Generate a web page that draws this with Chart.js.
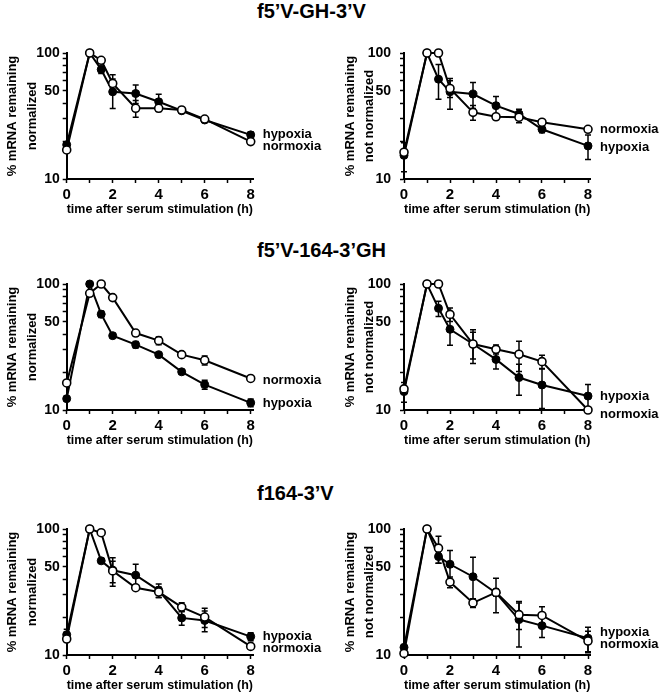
<!DOCTYPE html>
<html>
<head>
<meta charset="utf-8">
<script src="https://cdn.jsdelivr.net/npm/chart.js@4.4.0/dist/chart.umd.min.js"></script>
<style>
body { margin: 0; background: #fff; width: 663px; height: 699px; position: relative; overflow: hidden; font-family: "Liberation Sans", Arial, sans-serif; }
.rowtitle { position: absolute; left: 257px; font-weight: bold; font-size: 20px; line-height: 20px; color: #000; white-space: nowrap; }
.panel { position: absolute; }
</style>
</head>
<body>
<div class="rowtitle" style="top:1px">f5’V-GH-3’V</div>
<div class="rowtitle" style="top:240px">f5’V-164-3’GH</div>
<div class="rowtitle" style="top:483px">f164-3’V</div>

<div class="panel" style="left:0;top:33px"><canvas id="chart_a"></canvas></div>
<div class="panel" style="left:330px;top:33px"><canvas id="chart_b"></canvas></div>
<div class="panel" style="left:0;top:264px"><canvas id="chart_c"></canvas></div>
<div class="panel" style="left:330px;top:264px"><canvas id="chart_d"></canvas></div>
<div class="panel" style="left:0;top:509px"><canvas id="chart_e"></canvas></div>
<div class="panel" style="left:330px;top:509px"><canvas id="chart_f"></canvas></div>

<script>
// time points (h)
var times = [0, 1, 1.5, 2, 3, 4, 5, 6, 8];

// f5'V-GH-3'V, normalized
var hypA = [18.7, 100, 73.9, 49.2, 47.7, 41, 34.8, 29.4, 22.4];
var hypA_err = [1, 0, 5, 13, 8, 6, 1.5, 1, 1.2];
var norA = [17.0, 100, 87.5, 57.3, 36.4, 36.4, 35.3, 29.9, 19.8];
var norA_err = [0.8, 0, 2, 10, 5.5, 2, 1.5, 1, 0.8];

// f5'V-GH-3'V, not normalized
var hypB = [15.4, 100, 62, 49.2, 47.2, 38.2, 32.8, 24.8, 18.3];
var hypB_err = [4, 0, 19, 13.5, 11, 7, 3, 1.5, 4];
var norB = [16.3, 100, 100, 52.3, 33.8, 31.2, 30.9, 28.2, 24.8];
var norB_err = [0.5, 0, 0, 8, 4.5, 1.5, 3, 1, 0.5];

// f5'V-164-3'GH, normalized
var hypC = [12.3, 100, 57.6, 38.9, 33.0, 27.5, 20.1, 15.9, 11.4];
var hypC_err = [0.5, 0, 3.5, 1.5, 2, 1, 0.8, 1.3, 0.8];
var norC = [16.4, 84.4, 100, 78, 40.8, 35.5, 27.5, 24.8, 17.8];
var norC_err = [0.5, 3, 0, 2, 2, 2.5, 1, 2, 0.5];

// f5'V-164-3'GH, not normalized
var hypD = [14.0, 100, 64.1, 43.7, 33.4, 25.2, 18.1, 15.8, 12.9];
var hypD_err = [2.5, 0, 9, 11, 10, 4, 5, 5.5, 3];
var norD = [14.7, 100, 100, 57.4, 33.4, 30.3, 27.7, 24.2, 10.0];
var norD_err = [0.5, 0, 0, 7, 8, 2.5, 7.5, 3, 0];

// f164-3'V, normalized
var hypE = [14.5, 100, 55.9, 47.1, 43, 32.6, 19.7, 18.8, 14.0];
var hypE_err = [1.5, 0, 2.5, 12, 9.5, 4, 2.5, 3.5, 1];
var norE = [13.4, 100, 93.5, 46.5, 34.2, 31.6, 24.0, 20.0, 11.7];
var norE_err = [0.5, 0, 0, 9, 1, 3, 2, 3.5, 0.5];

// f164-3'V, not normalized
var hypF = [11.5, 100, 60.4, 52.5, 41.8, 31.1, 19.1, 17.1, 13.6];
var hypF_err = [0.5, 0, 7, 15, 18, 9.5, 7.5, 3.3, 3];
var norF = [10.3, 100, 70.5, 37.9, 25.9, 31.4, 20.9, 20.6, 12.9];
var norF_err = [0.3, 0, 17, 3.7, 2, 2, 5, 3.5, 2.5];

var yTickValues = [10, 20, 30, 40, 50, 60, 70, 80, 90, 100];
var yTickLabels = [10, 50, 100];
var xTickValues = [0, 1, 2, 3, 4, 5, 6, 7, 8];
var xTickLabels = [0, 2, 4, 6, 8];

Chart.defaults.font.family = '"Liberation Sans", Arial, Helvetica, sans-serif';
Chart.defaults.font.weight = 'bold';
Chart.defaults.color = '#000';

var toPoints = function (values) {
    return values.map(function (v, i) { return { x: times[i], y: v }; });
};

var errorBars = {
    id: 'errorBars',
    beforeDatasetsDraw: function (chart) {
        var ctx = chart.ctx;
        var xs = chart.scales.x, ys = chart.scales.y;
        ctx.save();
        ctx.strokeStyle = '#000';
        ctx.lineWidth = 1.5;
        chart.data.datasets.forEach(function (ds) {
            ds.data.forEach(function (pt, i) {
                var e = ds.errors[i];
                if (!e) return;
                var px = xs.getPixelForValue(pt.x);
                var top = ys.getPixelForValue(pt.y + e);
                var bot = ys.getPixelForValue(Math.max(pt.y - e, 10));
                ctx.beginPath();
                ctx.moveTo(px, top); ctx.lineTo(px, bot);
                ctx.moveTo(px - 3, top); ctx.lineTo(px + 3, top);
                if (pt.y - e > 10) { ctx.moveTo(px - 3, bot); ctx.lineTo(px + 3, bot); }
                ctx.stroke();
            });
        });
        ctx.restore();
    }
};

var makePanel = function (cfg) {
    var W = cfg.right ? 333 : 330, H = 190;
    var plotLeft = cfg.right ? 74 : 66.7;
    var padLeft = cfg.right ? 10.5 : 3;
    var xMax = 8.1;
    var plotRight = plotLeft + 23 * xMax;
    var canvas = document.getElementById(cfg.id);
    canvas.width = W; canvas.height = H;
    canvas.style.width = W + 'px'; canvas.style.height = H + 'px';

    var sideLabels = {
        id: 'sideLabels',
        afterDraw: function (chart) {
            var ctx = chart.ctx;
            var x = chart.scales.x.getPixelForValue(8) + 12;
            ctx.save();
            ctx.fillStyle = '#000';
            ctx.font = 'bold 13px "Liberation Sans", Arial, sans-serif';
            ctx.textBaseline = 'middle';
            cfg.labels.forEach(function (l) {
                ctx.fillText(l.text, x, chart.chartArea.top + l.dy);
            });
            ctx.restore();
        }
    };

    new Chart(canvas, {
        type: 'line',
        data: {
            datasets: [{
                label: 'normoxia',
                data: toPoints(cfg.nor),
                errors: cfg.norErr,
                borderColor: '#000',
                borderWidth: 2,
                pointRadius: 4,
                pointBackgroundColor: '#fff',
                pointBorderColor: '#000',
                pointBorderWidth: 1.6,
                clip: false
            }, {
                label: 'hypoxia',
                data: toPoints(cfg.hyp),
                errors: cfg.hypErr,
                borderColor: '#000',
                borderWidth: 2,
                pointRadius: 4,
                pointBackgroundColor: '#000',
                pointBorderColor: '#000',
                pointBorderWidth: 1,
                clip: false
            }]
        },
        options: {
            responsive: false,
            animation: false,
            layout: { padding: { left: padLeft, top: 20, right: W - plotRight, bottom: 4 } },
            elements: { line: { tension: 0 } },
            plugins: { legend: { display: false }, tooltip: { enabled: false } },
            scales: {
                x: {
                    type: 'linear',
                    min: 0,
                    max: xMax,
                    afterBuildTicks: function (scale) {
                        scale.ticks = xTickValues.map(function (v) { return { value: v }; });
                    },
                    afterFit: function (scale) { scale.height = 40; },
                    grid: { drawOnChartArea: false, drawTicks: true, tickLength: 4, tickColor: '#000', tickWidth: 1.5 },
                    border: { display: true, color: '#000', width: 2 },
                    ticks: {
                        autoSkip: false,
                        maxRotation: 0,
                        padding: 3,
                        font: { size: 15, weight: 'bold' },
                        callback: function (v) { return xTickLabels.indexOf(v) >= 0 ? String(v) : ''; }
                    },
                    title: {
                        display: true,
                        text: 'time after serum stimulation (h)',
                        font: { size: 13, weight: 'bold' },
                        padding: { top: 0, bottom: 2 }
                    }
                },
                y: {
                    type: 'logarithmic',
                    min: 10,
                    max: 100,
                    afterBuildTicks: function (scale) {
                        scale.ticks = yTickValues.map(function (v) { return { value: v }; });
                    },
                    afterFit: function (scale) { scale.width = plotLeft - padLeft; },
                    grid: { drawOnChartArea: false, drawTicks: true, tickLength: 4, tickColor: '#000', tickWidth: 1.5 },
                    border: { display: true, color: '#000', width: 2 },
                    ticks: {
                        autoSkip: false,
                        padding: cfg.right ? 9 : 3,
                        font: { size: 14, weight: 'bold' },
                        callback: function (v) { return yTickLabels.indexOf(v) >= 0 ? String(v) : ''; }
                    },
                    title: {
                        display: true,
                        text: ['% mRNA remaining', cfg.right ? 'not normalized' : 'normalized'],
                        font: { size: 13, weight: 'bold', lineHeight: 1.5 },
                        padding: { top: 0, bottom: 0 }
                    }
                }
            }
        },
        plugins: [errorBars, sideLabels]
    });
};

makePanel({ id: 'chart_a', right: false, hyp: hypA, hypErr: hypA_err, nor: norA, norErr: norA_err,
    labels: [{ text: 'hypoxia', dy: 81 }, { text: 'normoxia', dy: 93 }] });
makePanel({ id: 'chart_b', right: true, hyp: hypB, hypErr: hypB_err, nor: norB, norErr: norB_err,
    labels: [{ text: 'normoxia', dy: 76 }, { text: 'hypoxia', dy: 94 }] });
makePanel({ id: 'chart_c', right: false, hyp: hypC, hypErr: hypC_err, nor: norC, norErr: norC_err,
    labels: [{ text: 'normoxia', dy: 96 }, { text: 'hypoxia', dy: 119 }] });
makePanel({ id: 'chart_d', right: true, hyp: hypD, hypErr: hypD_err, nor: norD, norErr: norD_err,
    labels: [{ text: 'hypoxia', dy: 112 }, { text: 'normoxia', dy: 130 }] });
makePanel({ id: 'chart_e', right: false, hyp: hypE, hypErr: hypE_err, nor: norE, norErr: norE_err,
    labels: [{ text: 'hypoxia', dy: 107 }, { text: 'normoxia', dy: 119 }] });
makePanel({ id: 'chart_f', right: true, hyp: hypF, hypErr: hypF_err, nor: norF, norErr: norF_err,
    labels: [{ text: 'hypoxia', dy: 103 }, { text: 'normoxia', dy: 115 }] });
</script>
</body>
</html>
